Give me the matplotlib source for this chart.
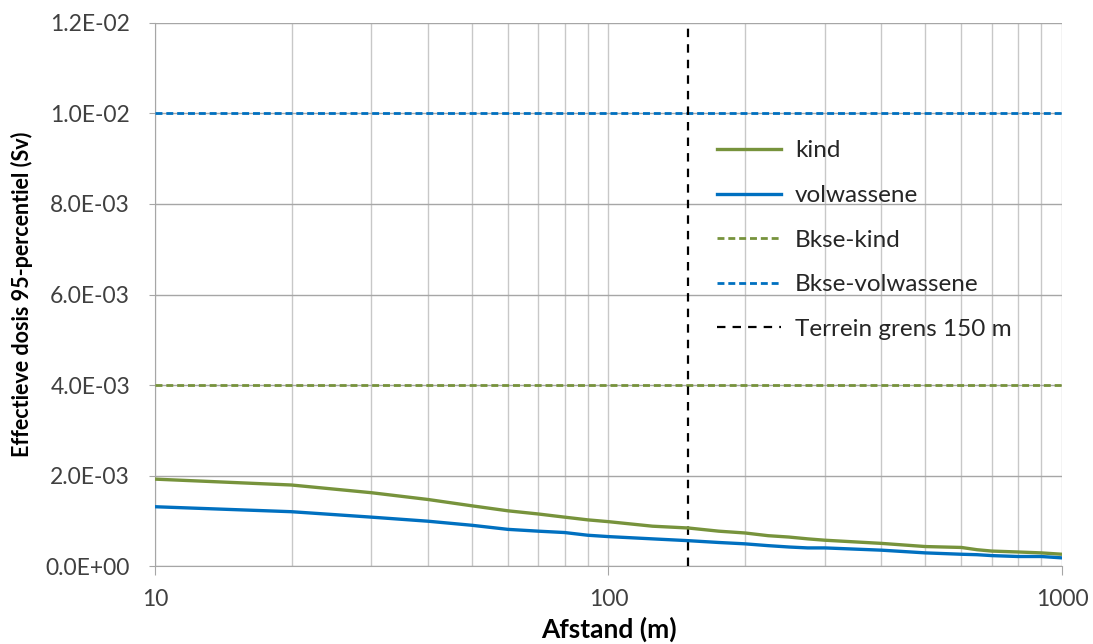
import matplotlib.pyplot as plt
from matplotlib.ticker import FixedLocator, NullFormatter

plt.rcParams['font.family'] = ['Lato', 'DejaVu Sans']

# afstand (m)
afstand = [10, 20, 30, 40, 50, 60, 70, 80, 90, 100, 125, 150, 175, 200, 225,
           250, 275, 300, 400, 500, 600, 650, 700, 800, 900, 1000]
kind = [1.92e-3, 1.79e-3, 1.62e-3, 1.47e-3, 1.33e-3, 1.22e-3, 1.15e-3, 1.08e-3,
        1.02e-3, 0.98e-3, 0.88e-3, 0.84e-3, 0.77e-3, 0.73e-3, 0.67e-3, 0.64e-3,
        0.60e-3, 0.57e-3, 0.50e-3, 0.43e-3, 0.41e-3, 0.36e-3, 0.33e-3, 0.31e-3,
        0.29e-3, 0.26e-3]
volwassene = [1.31e-3, 1.20e-3, 1.08e-3, 0.99e-3, 0.90e-3, 0.81e-3, 0.77e-3,
              0.74e-3, 0.68e-3, 0.65e-3, 0.60e-3, 0.56e-3, 0.52e-3, 0.49e-3,
              0.45e-3, 0.42e-3, 0.40e-3, 0.40e-3, 0.35e-3, 0.29e-3, 0.26e-3,
              0.25e-3, 0.23e-3, 0.21e-3, 0.21e-3, 0.18e-3]
bkse_kind = 4.0e-3
bkse_volwassene = 1.0e-2
terrein_grens = 150

green = '#77933C'
blue = '#0070C0'

fig = plt.figure(figsize=(10.93, 6.44), dpi=100)
ax = fig.add_axes([0.1418, 0.1211, 0.8298, 0.8432])

ax.plot(afstand, kind, color=green, lw=2.4, label='kind', zorder=4)
ax.plot(afstand, volwassene, color=blue, lw=2.4, label='volwassene', zorder=4)
ax.axhline(bkse_kind, color=green, lw=2.0, ls=(0, (2.5, 1.4)), label='Bkse-kind', zorder=3)
ax.axhline(bkse_volwassene, color=blue, lw=2.0, ls=(0, (2.5, 1.4)), label='Bkse-volwassene', zorder=3)
ax.axvline(terrein_grens, color='black', lw=1.6, ls=(0, (3.8, 3.2)), label='Terrein grens 150 m', zorder=3)

ax.set_xscale('log')
ax.set_xlim(10, 1000)
ax.set_ylim(0, 0.012)

minor = [v * d for d in (10, 100) for v in range(2, 10)]
ax.xaxis.set_minor_locator(FixedLocator(minor))
ax.xaxis.set_minor_formatter(NullFormatter())
ax.set_xticks([10, 100, 1000])
ax.set_xticklabels(['10', '100', '1000'])
ax.set_yticks([i * 0.002 for i in range(7)])
ax.set_yticklabels(['%.1E' % (i * 0.002) for i in range(7)])

ax.grid(True, which='both', color='#c8c8c8', lw=1.0, zorder=0)
ax.grid(True, which='major', axis='y', color='#a6a6a6', lw=1.0)
for s in ['top', 'right']:
    ax.spines[s].set_visible(False)
for s in ['left', 'bottom']:
    ax.spines[s].set_color('#a6a6a6')
ax.tick_params(axis='both', which='major', labelsize=16.5, color='#a6a6a6', length=6.5)
ax.tick_params(axis='y', pad=14, length=4)
ax.tick_params(axis='x', pad=10)
ax.tick_params(axis='x', which='minor', length=0)
for lbl in ax.get_xticklabels() + ax.get_yticklabels():
    lbl.set_color('#404040')

ax.set_xlabel('Afstand (m)', fontsize=19, fontweight='bold', labelpad=5)
ax.set_ylabel('Effectieve dosis 95-percentiel (Sv)', fontsize=15.5, fontweight='bold', labelpad=9)

leg = ax.legend(loc='upper left', bbox_to_anchor=(0.596, 0.824), frameon=False,
                fontsize=17.5, labelspacing=0.97, handlelength=2.6, handletextpad=0.6)
for t in leg.get_texts():
    t.set_color('#262626')

fig.savefig('out.png', dpi=100)
